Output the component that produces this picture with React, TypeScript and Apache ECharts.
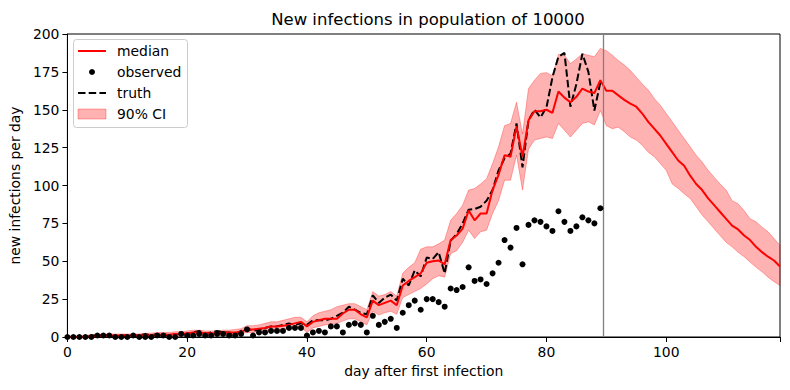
import React, { useEffect, useRef } from 'react';
import * as echarts from 'echarts';

// day index = array index
const medianValues = [
  0, 0, 0, 0, 0.5, 0.5, 1, 1, 1, 1,
  1, 1, 1, 1, 1, 1.5, 1.5, 1.5, 2, 2,
  2.5, 3, 3, 2.5, 2.5, 2.5, 3, 3, 3, 3.5,
  5, 5, 5.5, 6, 7, 7, 7.5, 8, 9, 10,
  7, 10, 11, 12, 12, 12, 15.5, 18, 18, 15,
  13, 24, 21, 22.5, 24, 21, 34, 37, 39.5, 42,
  49, 50, 50.5, 48, 64, 67, 71.5, 83.5, 77, 81.5,
  81.5, 97, 107, 120, 119, 139, 119, 143, 149, 149,
  150, 148, 162, 158, 155, 158.5, 164, 162, 161, 169.5,
  162.5, 162.5, 159.5, 156.5, 154, 152, 147.5, 142, 137.5, 133,
  127.5, 122, 116.5, 113, 106.5, 101, 97, 91.5, 87, 82.5,
  78, 73.5, 71, 67, 64, 59.5, 56, 53, 50.5, 46.5,
];

const ciUpper = [
  0.5, 0.5, 0.5, 1, 1.5, 1.5, 2, 2, 2, 2,
  2, 2, 2, 2.5, 2.5, 3, 3, 3, 3.5, 3.5,
  4, 4.5, 4.5, 4, 4, 4, 4.5, 4.5, 5, 5.5,
  7.5, 7.5, 8, 9, 10, 10, 11, 12, 13, 13,
  10, 14, 16, 17, 18, 20, 21, 22, 22, 20,
  18, 30, 27, 28, 30, 27, 42, 46, 49, 58,
  59.5, 59.5, 61.5, 64, 77, 81.5, 87, 97, 98, 101,
  104.5, 114.5, 125.5, 139.5, 141, 155, 134, 164, 169.5, 174,
  174.5, 172.5, 186.5, 186, 180.5, 183.5, 187, 186, 185, 190.5,
  189, 186, 182.5, 179.5, 176, 171.5, 167, 163, 157.5, 153,
  147.5, 142, 136.5, 131, 125.5, 120, 115.5, 110, 105.5, 101,
  97, 90, 88, 83.5, 78, 76, 72.5, 69.5, 65, 60.5,
];

const ciLower = [
  0, 0, 0, 0, 0, 0, 0, 0, 0, 0,
  0, 0, 0, 0, 0, 0.5, 0.5, 0.5, 0.5, 0.5,
  1, 1.5, 1.5, 1, 1, 1, 1.5, 1.5, 1.5, 2,
  3, 3, 3.5, 4, 4.5, 4.5, 5, 5.5, 6, 6.5,
  3, 6, 7, 8, 8.5, 9, 10.5, 12, 12, 10,
  8, 17, 14.5, 16, 17, 15, 26, 28, 30, 32,
  35, 38.5, 40.5, 39.5, 55, 57, 62.5, 70.5, 65, 69.5,
  70.5, 81.5, 90, 103.5, 103.5, 120, 97, 124, 130, 131,
  132, 131, 141, 136.5, 132, 136.5, 141, 142, 140, 149.5,
  139.5, 137.5, 138.5, 135.5, 132, 130, 126.5, 122, 119, 114.5,
  110, 101, 98, 94.5, 91.5, 86, 80.5, 76, 71.5, 67,
  62.5, 59.5, 56, 53, 49.5, 46, 43, 39.5, 36.5, 34,
];

const truthValues = [
  0, 0, 0, 0, 1, 1, 1, 1, 0, 1,
  1, 1, 1, 2, 1, 2, 2, 1, 2, 2,
  2, 3, 4, 2, 3, 4, 3, 3, 2, 4,
  6, 4, 5, 6, 7, 7, 8, 9, 8, 9,
  8, 11, 11, 11, 12, 14, 16, 20, 18, 16,
  15, 27.5, 22.5, 26, 28, 24, 38.5, 34, 44, 40,
  52.5, 51.5, 56, 42, 63.5, 68, 75, 84, 84.5, 86,
  90, 97, 110, 118, 121, 141, 112, 143, 150, 145,
  151.5, 171.5, 185, 187.5, 152, 167, 187, 175, 149.5, 168,
];

const observedValues = [
  0, 0, 0, 0, 0, 1, 1, 1, 0, 0,
  0, 1, 0, 0, 0, 1, 1, 0, 0, 2,
  1, 1, 2, 1, 1, 2, 2, 1, 1, 2,
  5, 1, 3, 3, 4, 4, 4, 6, 6, 6,
  1, 3, 4, 3, 7, 7, 3, 8, 9, 8,
  3, 14, 8, 10, 12, 6, 16, 21, 24, 18,
  25, 25, 23, 20, 32, 31, 33, 46, 37, 38,
  35, 42, 49, 64, 59, 72, 48, 74, 77, 76,
  73, 70, 83, 76, 70, 73, 79, 77, 75, 85,
];

const forecastStart = 89.5;
const xTicks = [0, 20, 40, 60, 80, 100];
const yTicks = [0, 25, 50, 75, 100, 125, 150, 175, 200];
const legendLabels = ['median', 'observed', 'truth', '90% CI'];
const titleText = 'New infections in population of 10000';
const xLabel = 'day after first infection';
const yLabel = 'new infections per day';

const FONT = 'DejaVu Sans';

export default function App() {
  const ref = useRef<HTMLDivElement>(null);

  useEffect(() => {
    document.body.style.margin = '0';
    const chart = echarts.init(ref.current!, null, { renderer: 'svg' });

    const toPairs = (arr: number[]) => arr.map((v, i) => [i, v]);

    const option: any = {
      animation: false,
      backgroundColor: '#ffffff',
      title: {
        text: titleText,
        left: 423,
        top: 6,
        textAlign: 'center',
        textStyle: { fontFamily: FONT, fontSize: 16.5, fontWeight: 'normal', color: '#000' },
      },
      grid: {
        left: 66,
        right: 10,
        top: 34,
        bottom: 53,
        show: true,
        borderColor: '#000',
        borderWidth: 1,
        backgroundColor: 'transparent',
      },
      xAxis: {
        type: 'value',
        min: 0,
        max: 119,
        interval: 20,
        name: xLabel,
        nameLocation: 'middle',
        nameGap: 27,
        nameTextStyle: { fontFamily: FONT, fontSize: 13.9, color: '#000' },
        axisLine: { show: true, lineStyle: { color: '#000', width: 1 } },
        axisTick: { show: true, length: 5, lineStyle: { color: '#000' } },
        axisLabel: {
          fontFamily: FONT,
          fontSize: 13.9,
          color: '#000',
          margin: 8,
          formatter: (v: number) => (xTicks.includes(v) ? String(v) : ''),
        },
        splitLine: { show: false },
      },
      yAxis: {
        type: 'value',
        min: 0,
        max: 200,
        interval: 25,
        name: yLabel,
        nameLocation: 'middle',
        nameGap: 42,
        nameTextStyle: { fontFamily: FONT, fontSize: 13.9, color: '#000' },
        axisLine: { show: true, lineStyle: { color: '#000', width: 1 } },
        axisTick: { show: true, length: 5, lineStyle: { color: '#000' } },
        axisLabel: {
          fontFamily: FONT,
          fontSize: 13.9,
          color: '#000',
          margin: 8,
          formatter: (v: number) => (yTicks.includes(v) ? String(v) : ''),
        },
        splitLine: { show: false },
      },
      series: [
        {
          name: legendLabels[3],
          type: 'custom',
          data: [[0, 0]],
          clip: true,
          z: 1,
          silent: true,
          renderItem: (_params: any, api: any) => {
            const pts: number[][] = [];
            for (let i = 0; i < ciUpper.length; i++) pts.push(api.coord([i, ciUpper[i]]));
            for (let i = ciLower.length - 1; i >= 0; i--) pts.push(api.coord([i, ciLower[i]]));
            return {
              type: 'polygon',
              shape: { points: pts },
              style: { fill: 'rgba(255,0,0,0.3)', stroke: 'rgba(255,0,0,0.3)', lineWidth: 1 },
            };
          },
        },
        {
          name: legendLabels[2],
          type: 'line',
          data: toPairs(truthValues),
          symbol: 'none',
          z: 3,
          lineStyle: { color: '#000', width: 2, type: [7.5, 3.2] },
        },
        {
          name: legendLabels[0],
          type: 'line',
          data: toPairs(medianValues),
          symbol: 'none',
          z: 4,
          lineStyle: { color: '#ff0000', width: 2 },
          markLine: {
            silent: true,
            symbol: ['none', 'none'],
            label: { show: false },
            lineStyle: { color: '#808080', width: 1.3, type: 'solid' },
            data: [{ xAxis: forecastStart }],
          },
        },
        {
          name: legendLabels[1],
          type: 'scatter',
          data: toPairs(observedValues),
          symbol: 'circle',
          symbolSize: 6,
          z: 5,
          itemStyle: { color: '#000', opacity: 1 },
        },
      ],
      graphic: [
        {
          type: 'group',
          z: 100,
          children: [
            {
              type: 'rect',
              shape: { x: 73.5, y: 39.5, width: 114, height: 88, r: 3 },
              style: { fill: 'rgba(255,255,255,0.8)', stroke: '#cccccc', lineWidth: 1 },
            },
            { type: 'line', shape: { x1: 78, y1: 51, x2: 106, y2: 51 }, style: { stroke: '#ff0000', lineWidth: 2 } },
            { type: 'circle', shape: { cx: 92, cy: 72, r: 3 }, style: { fill: '#000' } },
            {
              type: 'line',
              shape: { x1: 78, y1: 93, x2: 106, y2: 93 },
              style: { stroke: '#000', lineWidth: 2, lineDash: [7.5, 3.2] },
            },
            {
              type: 'rect',
              shape: { x: 78, y: 109, width: 28, height: 10 },
              style: { fill: 'rgba(255,0,0,0.3)', stroke: 'rgba(255,0,0,0.3)', lineWidth: 1 },
            },
            ...legendLabels.map((t, i) => ({
              type: 'text',
              x: 117,
              y: [51, 72, 93, 114][i],
              style: {
                text: t,
                fontFamily: FONT,
                fontSize: 13.9,
                fill: '#000',
                verticalAlign: 'middle',
                align: 'left',
              },
            })),
          ],
        },
      ],
    };

    chart.setOption(option);
    return () => chart.dispose();
  }, []);

  return <div ref={ref} style={{ width: 790, height: 390 }} />;
}
